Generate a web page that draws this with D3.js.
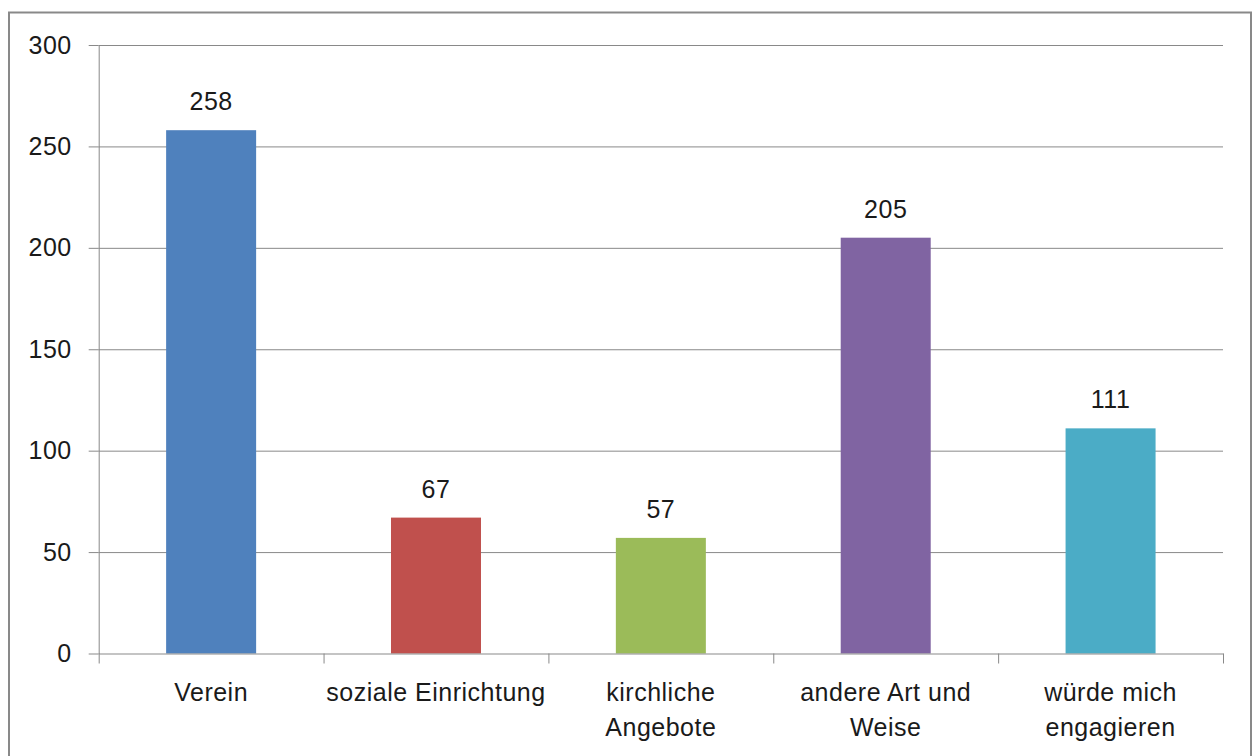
<!DOCTYPE html>
<html>
<head>
<meta charset="utf-8">
<script src="https://cdn.jsdelivr.net/npm/d3@7"></script>
<style>
  html, body { margin: 0; padding: 0; background: #fff; }
  svg { display: block; }
  text { font-family: "Liberation Sans", Arial, sans-serif; fill: #1a1a1a; }
</style>
</head>
<body>
<svg id="chart" width="1253" height="756"></svg>
<script>
const categories = ["Verein", "soziale Einrichtung", "kirchliche\nAngebote", "andere Art und\nWeise", "würde mich\nengagieren"];
const values = [258, 67, 57, 205, 111];
const colors = ["#4F81BD", "#C0504D", "#9BBB59", "#8064A2", "#4BACC6"];
const yTicks = [0, 50, 100, 150, 200, 250, 300];

const svg = d3.select("#chart");
const W = 1253, H = 756;
const x0 = 98.7, x1 = 1223, yTop = 45, yBot = 653.5;
const axisColor = "#898989";
const fontSize = 25, ls = 0.5;

// outer border
svg.append("rect")
  .attr("x", 9).attr("y", 12.5)
  .attr("width", 1242).attr("height", 760)
  .attr("fill", "none").attr("stroke", axisColor).attr("stroke-width", 2);

const x = d3.scaleBand().domain(categories).range([x0, x1]).paddingInner(0).paddingOuter(0);
const xb = d3.scaleLinear().domain([0, categories.length]).range([x0, x1]);
const y = d3.scaleLinear().domain([0, 300]).range([yBot, yTop]);

// gridlines
const grid = svg.append("g").attr("transform", `translate(${x0},0)`)
  .call(d3.axisRight(y).tickValues(yTicks.filter(d => d > 0)).tickSize(x1 - x0).tickFormat(""));
grid.select(".domain").remove();
grid.selectAll("line").attr("stroke", axisColor).attr("stroke-width", 1);

// y axis
const ya = svg.append("g").attr("transform", `translate(${x0},0)`)
  .call(d3.axisLeft(y).tickValues(yTicks).tickSize(10).tickPadding(17).tickSizeOuter(0));
ya.select(".domain").attr("stroke", axisColor).attr("stroke-width", 1);
ya.selectAll("line").attr("stroke", axisColor);
ya.selectAll("text").attr("font-size", fontSize).style("letter-spacing", ls + "px").attr("fill", "#1a1a1a")
  .attr("font-family", "Liberation Sans, Arial, sans-serif");

// bars
const barW = 90;
svg.append("g").selectAll("rect").data(values).join("rect")
  .attr("x", (d, i) => x(categories[i]) + x.bandwidth() / 2 - barW / 2)
  .attr("width", barW)
  .attr("y", d => y(d))
  .attr("height", d => y(0) - y(d))
  .attr("fill", (d, i) => colors[i]);

// x axis with boundary ticks
const xa = svg.append("g").attr("transform", `translate(0,${yBot})`)
  .call(d3.axisBottom(xb).tickValues(d3.range(categories.length + 1)).tickSize(10).tickFormat("").tickSizeOuter(0));
xa.select(".domain").attr("stroke", axisColor);
xa.selectAll("line").attr("stroke", axisColor);

// category labels
const xl = svg.append("g").attr("transform", `translate(0,${yBot})`)
  .call(d3.axisBottom(x).tickSize(0).tickPadding(0));
xl.select(".domain").remove();
xl.selectAll(".tick text").each(function(d) {
  const t = d3.select(this);
  t.text(null).attr("y", 0).attr("dy", null)
    .attr("font-size", fontSize).style("letter-spacing", ls + "px")
    .attr("fill", "#1a1a1a").attr("font-family", "Liberation Sans, Arial, sans-serif");
  d.split("\n").forEach((line, i) => {
    t.append("tspan").attr("x", 0).attr("y", 47 + i * 35).text(line);
  });
});

// value labels
svg.append("g").selectAll("text").data(values).join("text")
  .attr("x", (d, i) => x(categories[i]) + x.bandwidth() / 2)
  .attr("y", d => y(d) - 20)
  .attr("text-anchor", "middle")
  .attr("font-size", fontSize)
  .style("letter-spacing", ls + "px")
  .text(d => d);
</script>
</body>
</html>
